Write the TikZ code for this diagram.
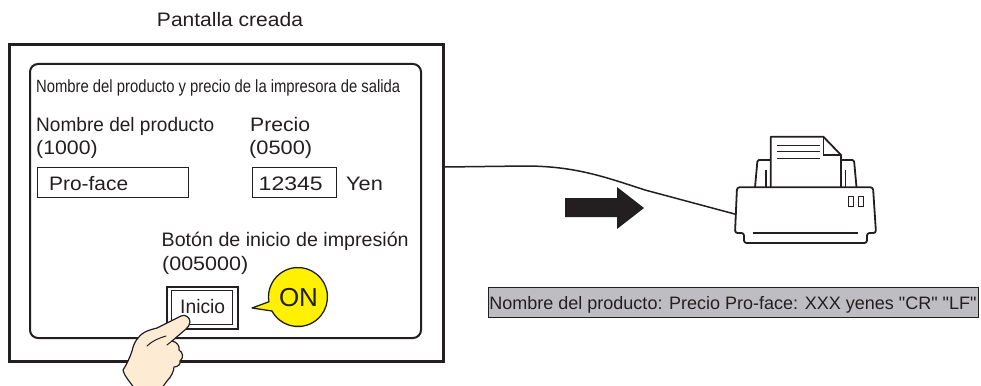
\documentclass[tikz,border=0pt]{standalone}
\usepackage{fontspec}
\setmainfont{Liberation Sans}
\newfontfamily\plainquotes{Liberation Sans}[Ligatures=TeXOff]
\usepackage{graphicx}
\usetikzlibrary{calc}
\definecolor{ink}{HTML}{231F20}
\definecolor{bubble}{HTML}{FFF100}
\definecolor{skin}{HTML}{FDEBD3}
\definecolor{outfill}{HTML}{BEBEC2}
% set a text to a given width, keeping its height
\newcommand{\fitto}[2]{\resizebox{#1}{\height}{#2}}

\begin{document}
\begin{tikzpicture}[x=1pt,y=-1pt,
  lbl/.style={anchor=base west, inner sep=0pt, text=ink, font=\fontsize{19.5}{22}\selectfont},
  field/.style={draw=ink, line width=1.3pt, inner sep=0pt, anchor=north west},
  pr/.style={draw=ink, line width=1.8pt, line join=round},
  prthin/.style={draw=ink, line width=1.2pt}]
\useasboundingbox (0,0) rectangle (981,385);
\clip (0,0) rectangle (981,385);

% title
\node[anchor=base, inner sep=0pt, text=ink, font=\fontsize{19.5}{22}\selectfont] (title) at (230,27) {\fitto{146pt}{Pantalla creada}};

% screen frame and panel
\node[draw=ink, line width=2.6pt, minimum width=434pt, minimum height=317pt, anchor=north west, inner sep=0pt] (screen) at (8,43) {};
\node[draw=ink, line width=2pt, rounded corners=8pt, minimum width=391pt, minimum height=274pt, anchor=north west, inner sep=0pt] (panel) at (29,63) {};

% panel header
\node[lbl, font=\fontsize{17.7}{20}\selectfont] (hdr) at (36,92.5) {\fitto{364pt}{Nombre del producto y precio de la impresora de salida}};

% product name field
\node[lbl] (namelbl) at (36,131.5) {\fitto{178pt}{Nombre del producto}};
\node[lbl] (nameaddr) at (36,154) {\fitto{61.5pt}{(1000)}};
\node[field, minimum width=151pt, minimum height=30pt] (namebox) at (36.7,166.7) {};
\node[lbl] (nameval) at (49,190) {\fitto{79pt}{Pro-face}};

% price field
\node[lbl] (pricelbl) at (250,131.5) {\fitto{60pt}{Precio}};
\node[lbl] (priceaddr) at (249,154) {\fitto{63pt}{(0500)}};
\node[field, minimum width=84pt, minimum height=30pt] (pricebox) at (252,166.7) {};
\node[lbl] (priceval) at (258.5,190) {\fitto{64pt}{12345}};
\node[lbl] (yen) at (346,190) {\fitto{36.7pt}{Yen}};

% print start button
\node[lbl] (btnlbl) at (161.5,246.7) {\fitto{247pt}{Botón de inicio de impresión}};
\node[lbl] (btnaddr) at (162,270) {\fitto{86pt}{(005000)}};
\node[draw=ink, line width=2pt, minimum width=71pt, minimum height=42pt, anchor=north west, inner sep=0pt] (btnouter) at (166,285.5) {};
\node[draw=ink, line width=1.1pt, minimum width=61pt, minimum height=34pt, anchor=north west, inner sep=0pt] (btninner) at (171,289.5) {};
\node[lbl] (btntext) at (180,313) {\fitto{45pt}{Inicio}};

% speech bubble
\draw[fill=bubble, draw=ink, line width=1.3pt, line join=round]
  (252,308) -- (272.0,311.0) arc[start angle=151.7, end angle=-189.3, radius=29.5] -- cycle;
\node[anchor=base, inner sep=0pt, text=ink, font=\fontsize{26}{28}\selectfont] (on) at (298.5,306.5) {ON};

% pointing hand
\draw[fill=skin, draw=ink, line width=1.2pt, line join=round]
  (181,316) .. controls (185,314) and (190,317) .. (190,322)
  .. controls (190,325) and (188,327) .. (186,329)
  -- (172,341)
  .. controls (177,342) and (180,346) .. (179,350)
  .. controls (183,352) and (184,358) .. (180,361)
  .. controls (181,364) and (178,367) .. (174,367)
  .. controls (174,371) and (171,377) .. (167,381)
  -- (159,392) -- (137,392)
  .. controls (131,383) and (124,376) .. (123,370)
  .. controls (127,364) and (130,357) .. (132,351)
  .. controls (134,342) and (138,336) .. (145,332)
  .. controls (149,330) and (153,329) .. (157,328)
  -- cycle;
\draw[draw=ink, line width=1pt, line cap=round] (147,346) .. controls (152,341) and (159,338) .. (166,336);
\draw[draw=ink, line width=1pt, line cap=round] (172,341) -- (167,345);

% cable from the screen to the printer
\coordinate (printerin) at (736.5,214.5);
\draw[draw=ink, line width=1.5pt] ($(screen.north east)+(0,124)$) -- (525,166)
  .. controls (575,166) and (605,177) .. (645,190) -- (printerin);

% direction arrow
\fill[ink] (565,198) -- (617,198) -- (617,187) -- (644,208) -- (617,229) -- (617,217) -- (565,217) -- cycle;

% printer: paper
\draw[pr, fill=white] (770.7,187.3) -- (770.7,136.7) -- (823.3,136.7) -- (841,155) -- (841,187.3);
\draw[prthin] (823.3,137) -- (823.3,155) -- (841,155);
\draw[prthin] (777,145.7) -- (820,145.7);
\draw[prthin] (777,151.3) -- (820,151.3);
\draw[prthin] (777,158.3) -- (820,158.3);
% printer: paper guides
\draw[pr, rounded corners=1.5pt] (755,187.3) -- (757.5,160) -- (770.7,160);
\draw[prthin] (766,170) -- (766,187.3);
\draw[pr, rounded corners=1.5pt] (841,160) -- (854,160) -- (856.5,187.3);
\draw[prthin] (845.5,170) -- (845.5,187.3);
% printer: body
\draw[pr, rounded corners=2.5pt] (737,187.3) -- (873,187.3) -- (876,233) -- (867,233) -- (867,243) -- (744,243) -- (744,233) -- (735,233) -- cycle;
\draw[draw=ink, line width=2pt] (753,233) -- (858,233);
\draw[prthin] (848.3,196.7) rectangle (853.3,206.7);
\draw[prthin] (858.3,196.7) rectangle (863.3,206.7);

% printed output
\node[draw=ink, fill=outfill, line width=1.3pt, minimum width=490pt, minimum height=30pt, anchor=north west, inner sep=0pt] (out) at (488,287) {};
\node[anchor=base, inner sep=0pt, text=ink, font=\plainquotes\fontsize{18}{21}\selectfont] (outtext) at (733,309.3) {Nombre del producto: Precio Pro-face: XXX yenes "CR" "LF"};
\end{tikzpicture}
\end{document}
